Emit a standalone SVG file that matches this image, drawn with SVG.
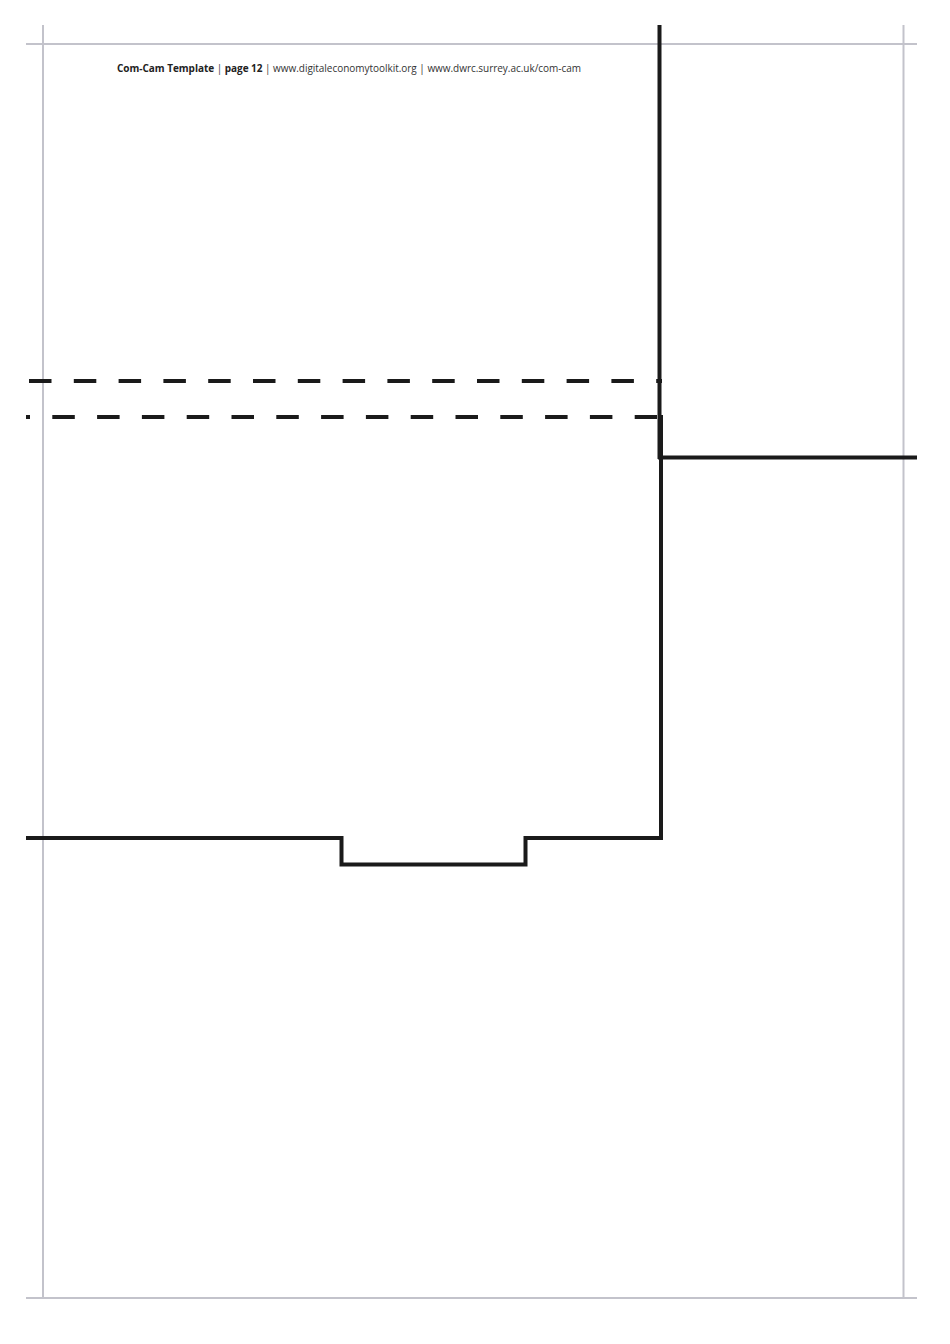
<svg xmlns="http://www.w3.org/2000/svg" width="950" height="1344" viewBox="0 0 950 1344">
<style>
.guide{stroke:#c3c3cb;stroke-width:2;fill:none}
.cut{stroke:#1a1a1a;stroke-width:4;fill:none}
.fold{stroke:#1a1a1a;stroke-width:4;fill:none;stroke-dasharray:22.5 22.3}
.hdr{font-family:"Open Sans","Noto Sans",sans-serif;font-size:10px;fill:#333}
.b{font-weight:bold;fill:#222}
</style>
<rect width="950" height="1344" fill="#ffffff"/>
<g id="guides">
<line class="guide" x1="26" y1="44" x2="917" y2="44"/>
<line class="guide" x1="26" y1="1298" x2="917" y2="1298"/>
<line class="guide" x1="43" y1="25" x2="43" y2="1298"/>
<line class="guide" x1="903.5" y1="25" x2="903.5" y2="1298"/>
</g>
<g id="header">
<text class="hdr" x="117" y="72" textLength="464" lengthAdjust="spacing"><tspan class="b">Com-Cam Template</tspan> | <tspan class="b">page 12</tspan> | www.digitaleconomytoolkit.org | www.dwrc.surrey.ac.uk/com-cam</text>
</g>
<g id="connectors">
<line class="fold" x1="29" y1="381" x2="662" y2="381"/>
<line class="fold" x1="26" y1="417" x2="657" y2="417" stroke-dashoffset="18.5"/>
<line class="cut" x1="659.5" y1="25" x2="659.5" y2="459"/>
<line class="cut" x1="658" y1="457.5" x2="917" y2="457.5"/>
<path class="cut" d="M26 838 H341.5 V864.5 H525.5 V838 H661 V415"/>
</g>
</svg>
